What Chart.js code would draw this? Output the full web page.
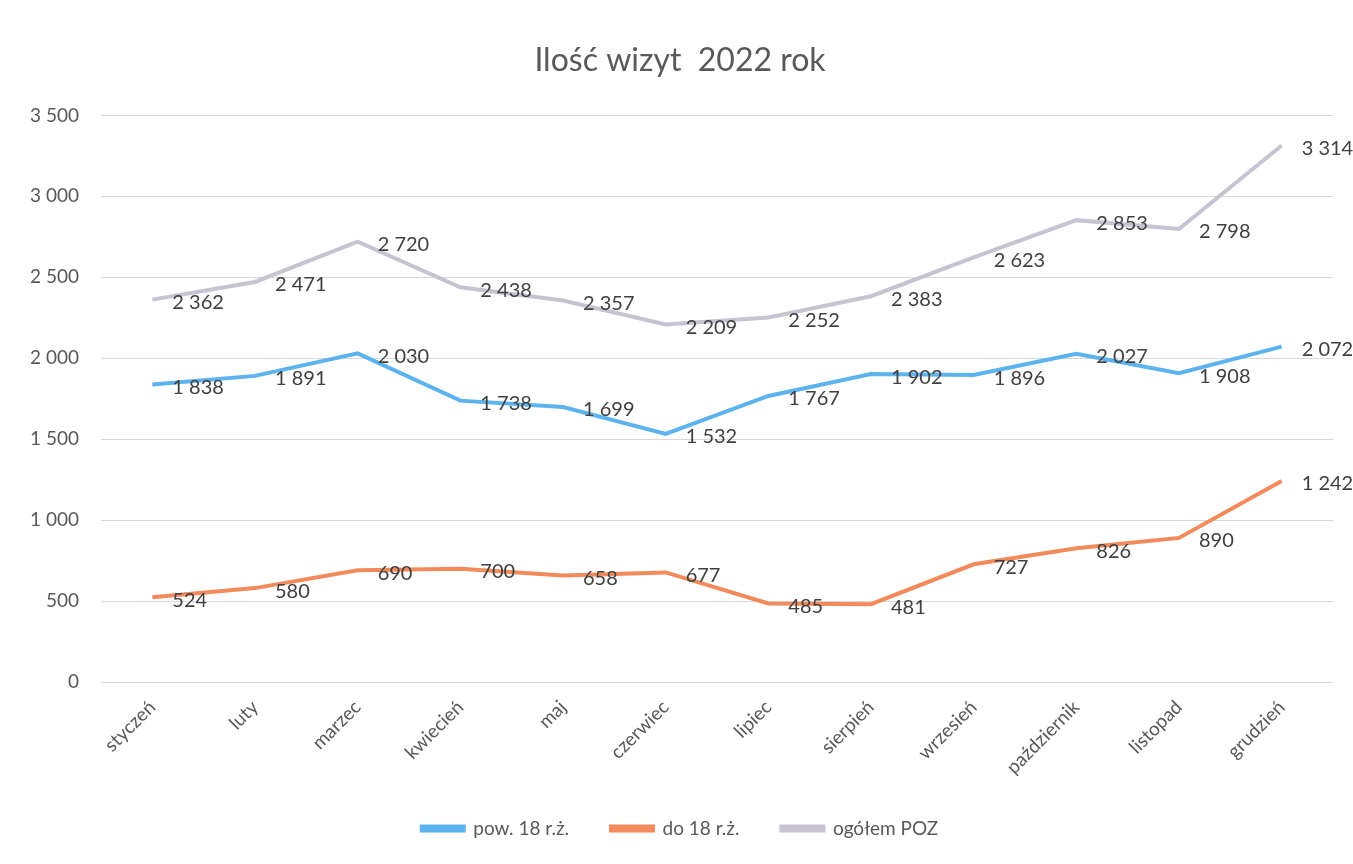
<!DOCTYPE html>
<html><head><meta charset="utf-8">
<script src="https://cdn.jsdelivr.net/npm/chart.js@4/dist/chart.umd.min.js"></script>
<style>html,body{margin:0;padding:0;background:#fff}#wrap{width:1353px;height:864px}</style>
</head><body><div id="wrap"><canvas id="c" width="1353" height="864"></canvas></div>
<script>
const categories = ["styczeń","luty","marzec","kwiecień","maj","czerwiec","lipiec","sierpień","wrzesień","październik","listopad","grudzień"];
const pow18 = [1838,1891,2030,1738,1699,1532,1767,1902,1896,2027,1908,2072];
const do18 = [524,580,690,700,658,677,485,481,727,826,890,1242];
const ogolem = [2362,2471,2720,2438,2357,2209,2252,2383,2623,2853,2798,3314];
const seriesNames = ["pow. 18 r.ż.","do 18 r.ż.","ogółem POZ"];
const titleText = "Ilość wizyt  2022 rok";

const FONT = "Lato, 'Open Sans', sans-serif";
const fmt = v => String(v).replace(/\B(?=(\d{3})+(?!\d))/g, " ");

const dataLabels = {
  id: "dataLabels",
  afterDatasetsDraw(chart) {
    const ctx = chart.ctx;
    ctx.save();
    ctx.font = "20px " + FONT;
    ctx.fillStyle = "#404040";
    ctx.textAlign = "left";
    ctx.textBaseline = "middle";
    chart.data.datasets.forEach((ds, i) => {
      chart.getDatasetMeta(i).data.forEach((pt, j) => {
        ctx.fillText(fmt(ds.data[j]), pt.x + 20, pt.y + 3);
      });
    });
    ctx.restore();
  }
};

new Chart(document.getElementById("c"), {
  type: "line",
  data: {
    labels: categories,
    datasets: [
      { label: seriesNames[0], data: pow18, borderColor: "#5DB3EE", backgroundColor: "#5DB3EE", borderWidth: 4, pointRadius: 0, tension: 0 },
      { label: seriesNames[1], data: do18, borderColor: "#F28A5B", backgroundColor: "#F28A5B", borderWidth: 4, pointRadius: 0, tension: 0 },
      { label: seriesNames[2], data: ogolem, borderColor: "#C8C3D0", backgroundColor: "#C8C3D0", borderWidth: 4, pointRadius: 0, tension: 0 }
    ]
  },
  options: {
    responsive: false,
    animation: false,
    layout: { padding: { left: 27, right: 20, top: 0, bottom: 16 } },
    plugins: {
      title: { display: true, text: titleText, color: "#595959", font: { family: FONT, size: 32, weight: "normal" }, padding: { top: 41, bottom: 36 } },
      legend: {
        position: "bottom",
        labels: { color: "#595959", font: { family: FONT, size: 19 }, boxWidth: 42, boxHeight: 4, padding: 42 }
      },
      tooltip: { enabled: false }
    },
    scales: {
      x: {
        offset: true,
        grid: { display: false },
        border: { display: false },
        ticks: { color: "#595959", font: { family: FONT, size: 19 }, minRotation: 45, maxRotation: 45, padding: 6 },
        afterFit(scale) { scale.height = 95; }
      },
      y: {
        min: 0, max: 3500,
        grid: { color: "#D9D9D9", lineWidth: 1, drawTicks: false },
        border: { display: false },
        ticks: { stepSize: 500, color: "#595959", font: { family: FONT, size: 19 }, padding: 22, callback: v => fmt(v) },
        afterFit(scale) { scale.width = 74; }
      }
    }
  },
  plugins: [dataLabels]
});
</script></body></html>
